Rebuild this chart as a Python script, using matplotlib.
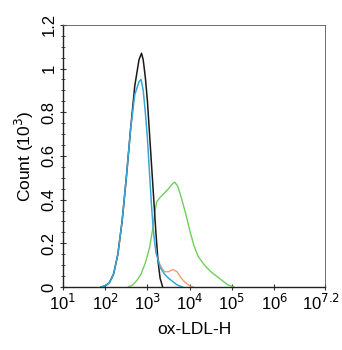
import numpy as np
import matplotlib
matplotlib.use('Agg')
import matplotlib.pyplot as plt
import matplotlib.transforms as mtransforms

plt.rcParams['font.family'] = ['Liberation Sans', 'DejaVu Sans']

# log10 positions and counts (x10^3)
black_x = [1.9, 2.0, 2.1, 2.2, 2.3, 2.4, 2.5, 2.6, 2.7, 2.8, 2.86, 2.9, 2.95, 3.0, 3.05, 3.1, 3.15, 3.2, 3.25, 3.3, 3.36]
black_y = [0.0, 0.005, 0.02, 0.06, 0.15, 0.3, 0.5, 0.72, 0.92, 1.04, 1.07, 1.04, 0.96, 0.85, 0.7, 0.55, 0.4, 0.25, 0.12, 0.04, 0.0]

blue_x = [1.9, 2.0, 2.1, 2.2, 2.3, 2.4, 2.5, 2.6, 2.7, 2.8, 2.85, 2.9, 2.95, 3.0, 3.05, 3.1, 3.15, 3.2, 3.3, 3.4, 3.5, 3.6, 3.7, 3.83]
blue_y = [0.0, 0.005, 0.02, 0.06, 0.15, 0.3, 0.5, 0.72, 0.88, 0.94, 0.95, 0.9, 0.8, 0.68, 0.52, 0.36, 0.24, 0.16, 0.09, 0.06, 0.04, 0.025, 0.01, 0.0]

orange_x = [3.2, 3.3, 3.4, 3.5, 3.6, 3.7, 3.8, 3.9, 4.0, 4.08]
orange_y = [0.16, 0.1, 0.07, 0.07, 0.08, 0.07, 0.04, 0.02, 0.005, 0.0]

green_x = [2.55, 2.65, 2.75, 2.85, 2.95, 3.05, 3.12, 3.18, 3.22, 3.3, 3.4, 3.5, 3.58, 3.65, 3.72, 3.8, 3.9, 4.0, 4.1, 4.2, 4.35, 4.5, 4.7, 4.9, 5.05]
green_y = [0.0, 0.01, 0.03, 0.06, 0.11, 0.18, 0.26, 0.35, 0.39, 0.41, 0.43, 0.45, 0.47, 0.48, 0.46, 0.41, 0.34, 0.26, 0.19, 0.14, 0.1, 0.07, 0.04, 0.01, 0.0]

xtick_exp = [1, 2, 3, 4, 5, 6, 7.2]
xtick_labels = ['10$^{1}$', '10$^{2}$', '10$^{3}$', '10$^{4}$', '10$^{5}$', '10$^{6}$', '10$^{7.2}$']
ytick_vals = [0, 0.2, 0.4, 0.6, 0.8, 1.0, 1.2]
ytick_labels = ['0', '0.2', '0.4', '0.6', '0.8', '1', '1.2']

fig = plt.figure(figsize=(3.42, 3.5), dpi=100)
ax = fig.add_axes([0.184, 0.18, 0.766, 0.749])

ax.plot(10 ** np.array(green_x), green_y, color='#6fcf5a', lw=1.0)
ax.plot(10 ** np.array(orange_x), orange_y, color='#f0a070', lw=1.0)
ax.plot(10 ** np.array(black_x), black_y, color='#1a1a1a', lw=1.1)
ax.plot(10 ** np.array(blue_x), blue_y, color='#3aa6d6', lw=1.1)

ax.set_xscale('log')
ax.set_xlim(10, 10 ** 7.2)
ax.set_ylim(0, 1.2)
ax.set_xticks([10 ** e for e in xtick_exp])
ax.set_xticklabels(xtick_labels, fontsize=12)
ax.set_yticks(ytick_vals)
ax.set_yticklabels(ytick_labels, fontsize=12, rotation=90, va='center')
ax.yaxis.set_minor_locator(matplotlib.ticker.MultipleLocator(0.05))
ax.tick_params(which='both', direction='inout', color='#333333')
ax.tick_params(which='major', length=5, width=0.8)
ax.tick_params(which='minor', length=2.5, width=0.6)
ax.tick_params(axis='x', pad=2)
ax.tick_params(axis='y', pad=2)

# nudge the last x label so it stays inside the picture
last = ax.get_xticklabels()[-1]
last.set_transform(last.get_transform() + mtransforms.ScaledTranslation(-4 / 100, 0, fig.dpi_scale_trans))

for side in ['top', 'right']:
    ax.spines[side].set_linewidth(0.6)
    ax.spines[side].set_color('#555555')
for side in ['left', 'bottom']:
    ax.spines[side].set_linewidth(1.0)
    ax.spines[side].set_color('#222222')

ax.set_xlabel('ox-LDL-H', fontsize=12.5, labelpad=6)
ax.set_ylabel('Count (10$^{3}$)', fontsize=12.5, labelpad=4)

fig.savefig('out.png', dpi=100)
